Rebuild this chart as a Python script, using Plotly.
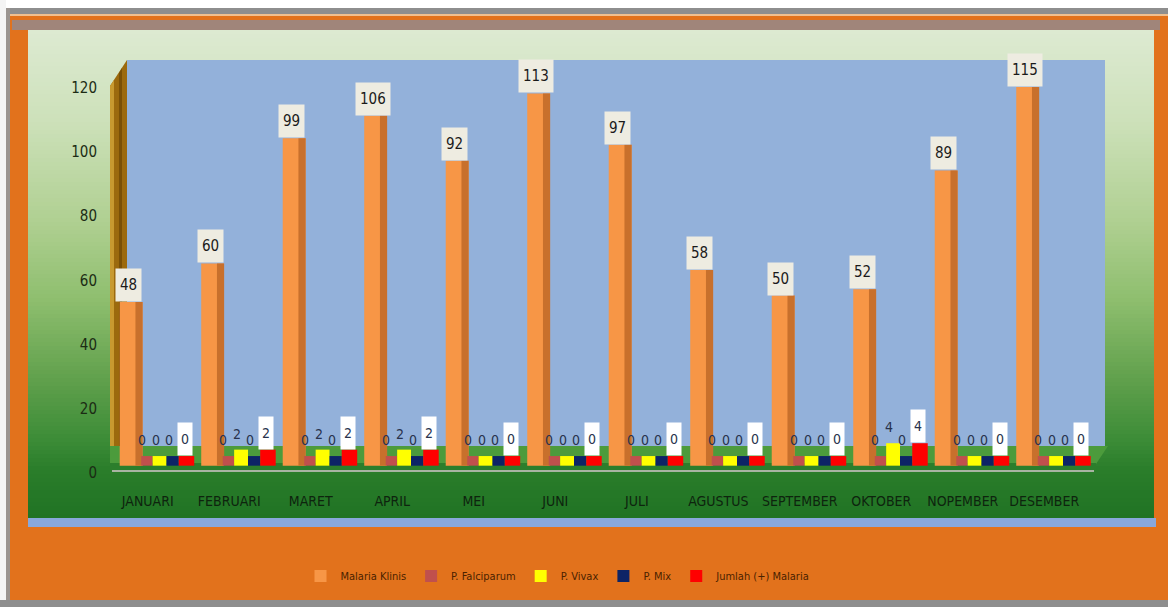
import plotly.graph_objects as go

# ---------------- data ----------------
months = ["JANUARI", "FEBRUARI", "MARET", "APRIL", "MEI", "JUNI", "JULI",
          "AGUSTUS", "SEPTEMBER", "OKTOBER", "NOPEMBER", "DESEMBER"]
malaria_klinis = [48, 60, 99, 106, 92, 113, 97, 58, 50, 52, 89, 115]
p_falciparum = [0, 0, 0, 0, 0, 0, 0, 0, 0, 0, 0, 0]
p_vivax = [0, 2, 2, 2, 0, 0, 0, 0, 0, 4, 0, 0]
p_mix = [0, 0, 0, 0, 0, 0, 0, 0, 0, 0, 0, 0]
jumlah_positif = [0, 2, 2, 2, 0, 0, 0, 0, 0, 4, 0, 0]
y_ticks = [0, 20, 40, 60, 80, 100, 120]

# ---------------- style ----------------
W, H = 1168, 607
NARROW = "Liberation Sans Narrow, DejaVu Sans Condensed, Arial Narrow, sans-serif"
FLOOR = -3.0          # depth of the 3-D floor, in value units

def px(x):
    return x / W

def py(y):
    return 1 - y / H

def rect(x0, y0, x1, y1, color):
    return dict(type="rect", xref="paper", yref="paper", layer="below",
                x0=px(x0), x1=px(x1), y0=py(y1), y1=py(y0),
                fillcolor=color, line=dict(width=0))

def poly(points, color):
    path = "M " + " L ".join(f"{px(x):.5f},{py(y):.5f}" for x, y in points) + " Z"
    return dict(type="path", xref="paper", yref="paper", layer="below",
                path=path, fillcolor=color, line=dict(width=0))

shapes = []
# outer frame
shapes.append(rect(0, 0, W, 8, "#FFFFFF"))
shapes.append(rect(0, 0, 6, H, "#F4F4F4"))
shapes.append(rect(6, 8, W, 14, "#8E8E8E"))
shapes.append(rect(6, 8, 10, 600, "#9A9490"))
shapes.append(rect(0, 600, W, H, "#8E8E8E"))
shapes.append(rect(10, 14, W, 16, "#F0C090"))
shapes.append(rect(12, 20, 1160, 30, "#A0857A"))

# chart-area vertical gradient
stops = [(30, (221, 234, 210)), (120, (205, 225, 186)), (220, (176, 208, 146)),
         (300, (142, 190, 110)), (380, (96, 160, 76)), (440, (60, 140, 55)),
         (470, (42, 125, 42)), (518, (32, 115, 36))]

def grad_color(y):
    for (ya, ca), (yb, cb) in zip(stops[:-1], stops[1:]):
        if ya <= y <= yb:
            t = (y - ya) / (yb - ya)
            c = [round(a + (b - a) * t) for a, b in zip(ca, cb)]
            return "rgb({},{},{})".format(*c)
    return "rgb({},{},{})".format(*stops[-1][1])

step = 4
for y in range(30, 518, step):
    shapes.append(rect(28, y, 1154, min(y + step + 1, 518), grad_color(y + step / 2)))
shapes.append(rect(28, 518, 1156, 527, "#88A8DC"))

# plot wall (blue back wall)
shapes.append(rect(127, 60, 1105, 448, "#93B1DA"))
# left side wall (gold/brown)
shapes.append(poly([(110, 86), (127, 60), (127, 452), (110, 468)], "#9C6A0E"))
shapes.append(poly([(110, 86), (114, 80), (114, 466), (110, 468)], "#C89A30"))
shapes.append(poly([(119, 73), (122, 68), (122, 460), (119, 462)], "#7A5006"))
# floor
shapes.append(poly([(110, 446), (1108, 446), (1096, 464), (110, 464)], "#4C9B3C"))
shapes.append(rect(110, 463, 1096, 470, "#2C7E2C"))
shapes.append(rect(112, 470, 1094, 472, "#A8B4A2"))

# ---------------- traces ----------------
series = [
    ("Malaria Klinis", malaria_klinis, "#F79646", -0.344, 0.28),
    ("P. Falciparum", p_falciparum, "#C0504D", -0.08, 0.14),
    ("P. Vivax", p_vivax, "#FFFF00", 0.06, 0.17),
    ("P. Mix", p_mix, "#0D2466", 0.23, 0.15),
    ("Jumlah (+) Malaria", jumlah_positif, "#FF0000", 0.38, 0.19),
]

fig = go.Figure()
for name, vals, color, off, wid in series:
    fig.add_trace(go.Bar(
        name=name, x=months, y=[v - FLOOR for v in vals], base=FLOOR,
        customdata=vals, hovertemplate=name + ": %{customdata}<extra></extra>",
        offset=off, width=wid, marker=dict(color=color, line=dict(width=0)),
    ))
    if name == "Malaria Klinis":
        # darker right side of the 3-D column
        fig.add_trace(go.Bar(
            name=name, x=months, y=[v - FLOOR for v in vals], base=FLOOR,
            offset=-0.151, width=0.088, showlegend=False, hoverinfo="skip",
            marker=dict(color="#C8702C", line=dict(width=0)),
        ))

# carrier for the back-wall value axis
fig.add_trace(go.Scatter(x=[months[0]], y=[y_ticks[0]], xaxis="x", yaxis="y2",
                         mode="markers", marker=dict(opacity=0), showlegend=False,
                         hoverinfo="skip"))

# ---------------- labels ----------------
annotations = []
for i, m in enumerate(months):
    annotations.append(dict(
        x=m, y=malaria_klinis[i], xref="x", yref="y", text=str(malaria_klinis[i]),
        showarrow=False, yanchor="bottom", xshift=-19, bgcolor="#EEECE1",
        borderpad=4, height=24, font=dict(family=NARROW, size=15, color="#1A1A1A")))
    for vals, shift in [(p_falciparum, -6), (p_vivax, 8), (p_mix, 21)]:
        annotations.append(dict(
            x=m, y=vals[i], xref="x", yref="y", text=str(vals[i]), showarrow=False,
            yanchor="bottom", xshift=shift, yshift=6,
            font=dict(family=NARROW, size=14, color="#28324C")))
    annotations.append(dict(
        x=m, y=jumlah_positif[i], xref="x", yref="y", text=str(jumlah_positif[i]),
        showarrow=False, yanchor="bottom", xshift=37, bgcolor="#FFFFFF",
        borderpad=3, height=26, font=dict(family=NARROW, size=14, color="#28324C")))

fig.update_layout(
    width=W, height=H, autosize=False,
    margin=dict(l=0, r=0, t=0, b=0),
    paper_bgcolor="#E2721C", plot_bgcolor="rgba(0,0,0,0)",
    barmode="overlay", shapes=shapes, annotations=annotations,
    xaxis=dict(type="category", domain=[px(107), px(1105)], range=[-0.5, 11.745],
               anchor="y", showgrid=False, zeroline=False, showline=False,
               ticks="outside", ticklen=22, tickcolor="rgba(0,0,0,0)",
               tickfont=dict(family=NARROW, size=14, color="#0E240E"),
               fixedrange=True, automargin=False),
    yaxis=dict(domain=[py(466), py(60)], range=[FLOOR - 0.1, 123.4],
               visible=False, fixedrange=True),
    yaxis2=dict(domain=[py(473), py(60)], range=[0, 128.66], anchor="x",
                tickvals=y_ticks, showgrid=False, zeroline=False, showline=False,
                ticks="outside", ticklen=6, tickcolor="rgba(0,0,0,0)",
                tickfont=dict(family=NARROW, size=15, color="#1B2B14"),
                fixedrange=True, automargin=False),
    legend=dict(orientation="h", x=px(558), xanchor="center", y=py(576),
                yanchor="middle", bgcolor="rgba(0,0,0,0)", itemwidth=30,
                font=dict(family=NARROW, size=11, color="#4A2200")),
    showlegend=True,
)

fig.write_html("out.html")
